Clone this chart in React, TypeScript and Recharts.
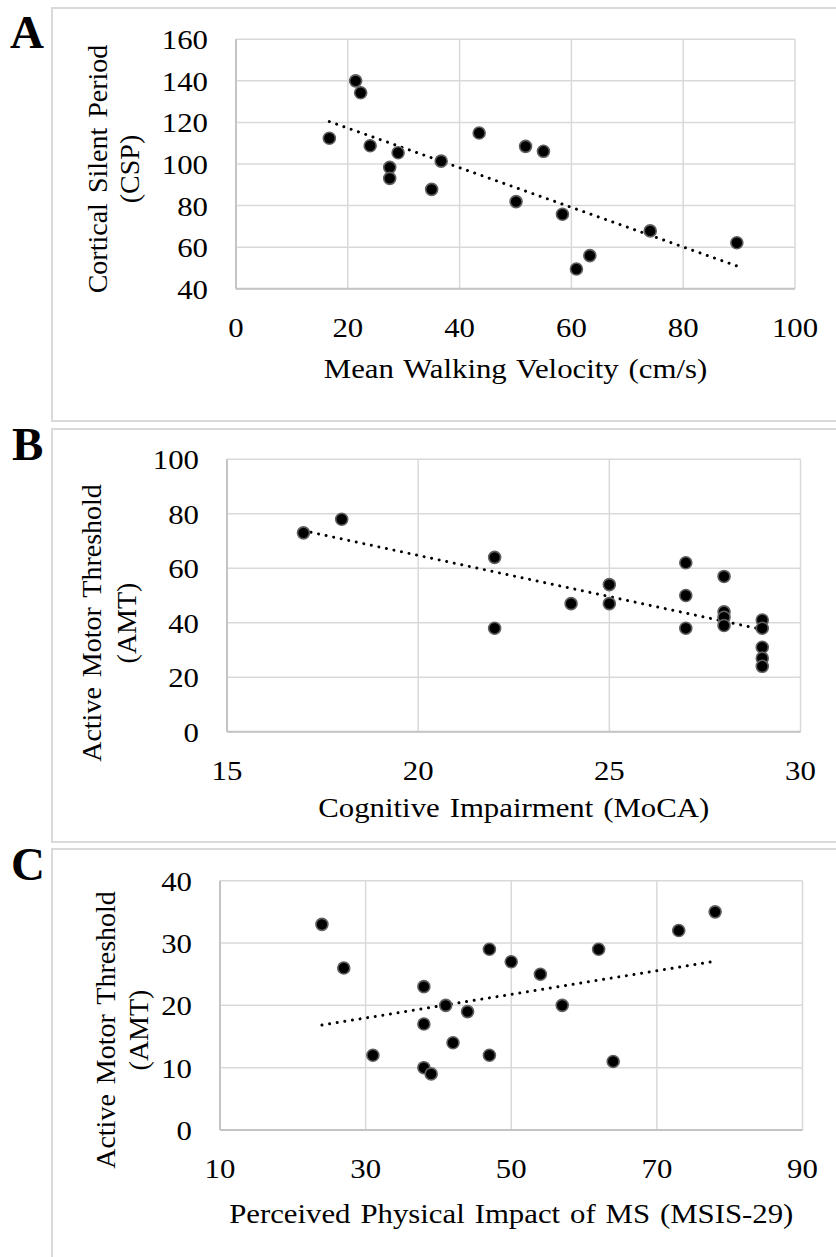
import React from 'react';
import { ScatterChart, Scatter, XAxis, YAxis, CartesianGrid, ReferenceLine } from 'recharts';

// ---- Panel A: walking velocity vs cortical silent period ----
const walkingVelocity = [16.7, 21.4, 22.3, 24.0, 29.0, 27.5, 27.5, 36.7, 35.0, 43.5, 51.8, 55.0, 50.1, 58.4, 63.3, 60.9, 74.1, 89.6];
const corticalSilentPeriod = [112.4, 140.0, 134.3, 108.8, 105.4, 98.4, 93.1, 101.4, 87.8, 114.9, 108.5, 106.1, 81.9, 75.8, 55.9, 49.5, 67.8, 62.1];
const velocityTicks = [0, 20, 40, 60, 80, 100];
const cspTicks = [40, 60, 80, 100, 120, 140, 160];

// ---- Panel B: MoCA vs active motor threshold ----
const mocaScore = [17, 18, 22, 22, 24, 25, 25, 27, 27, 27, 28, 28, 28, 28, 29, 29, 29, 29, 29];
const amtByMoca = [73, 78, 64, 38, 47, 54, 47, 62, 50, 38, 57, 44, 42, 39, 41, 38, 31, 27, 24];
const mocaTicks = [15, 20, 25, 30];
const amtTicksB = [0, 20, 40, 60, 80, 100];

// ---- Panel C: MSIS-29 physical vs active motor threshold ----
const msisPhysical = [24, 27, 31, 38, 38, 38, 39, 41, 42, 44, 47, 47, 50, 54, 57, 62, 64, 73, 78];
const amtByMsis = [33, 26, 12, 23, 17, 10, 9, 20, 14, 19, 29, 12, 27, 25, 20, 29, 11, 32, 35];
const msisTicks = [10, 30, 50, 70, 90];
const amtTicksC = [0, 10, 20, 30, 40];

const FONT = 'Liberation Serif';
const STRETCH = 1.1;
const W = 836;

// least-squares trend line across the data range
function fitLine(xs: number[], ys: number[]) {
  const n = xs.length;
  const mx = xs.reduce((a, b) => a + b, 0) / n;
  const my = ys.reduce((a, b) => a + b, 0) / n;
  let sxy = 0;
  let sxx = 0;
  for (let i = 0; i < n; i++) {
    sxy += (xs[i] - mx) * (ys[i] - my);
    sxx += (xs[i] - mx) * (xs[i] - mx);
  }
  const slope = sxy / sxx;
  const intercept = my - slope * mx;
  const x0 = Math.min(...xs);
  const x1 = Math.max(...xs);
  return [
    { x: x0, y: intercept + slope * x0 },
    { x: x1, y: intercept + slope * x1 },
  ];
}

const Marker = (props: any) => {
  const { cx, cy } = props;
  if (cx == null || cy == null) return <g />;
  return <circle cx={cx} cy={cy} r={6} fill="#000" stroke="#606060" strokeWidth={1.6} />;
};

const makeXTick = (offset: number) => (props: any) => {
  const { x, y, payload } = props;
  return (
    <text
      transform={`translate(${x},${y + offset}) scale(${STRETCH},1)`}
      textAnchor="middle"
      fontFamily={FONT}
      fontSize={28}
      fill="#000"
    >
      {payload.value}
    </text>
  );
};

const YTick = (props: any) => {
  const { x, y, payload } = props;
  return (
    <text
      transform={`translate(${x - 28},${y + 10}) scale(${STRETCH},1)`}
      textAnchor="end"
      fontFamily={FONT}
      fontSize={28}
      fill="#000"
    >
      {payload.value}
    </text>
  );
};

const XTitle = ({ cx, baseline, text }: { cx: number; baseline: number; text: string }) => (
  <text
    transform={`translate(${cx},${baseline}) scale(${STRETCH},1)`}
    textAnchor="middle"
    fontFamily={FONT}
    fontSize={28}
    wordSpacing={2}
    fill="#000"
  >
    {text}
  </text>
);

const YTitle = ({ lines, xs, cy }: { lines: string[]; xs: number[]; cy: number }) => (
  <g>
    {lines.map((t, i) => (
      <text
        key={t}
        transform={`translate(${xs[i]},${cy}) rotate(-90)`}
        textAnchor="middle"
        fontFamily={FONT}
        fontSize={28}
        wordSpacing={3}
        fill="#000"
      >
        {t}
      </text>
    ))}
  </g>
);

type PanelProps = {
  top: number;
  height: number;
  plotLeft: number;
  plotRight: number;
  plotTop: number;
  plotBottom: number;
  xs: number[];
  ys: number[];
  xDomain: [number, number];
  xTicks: number[];
  yDomain: [number, number];
  yTicks: number[];
  xTitle: string;
  xTitleBaseline: number;
  tickOffset: number;
  yTitle: string[];
  yTitleXs: number[];
  yTitleCy: number;
};

function Panel(p: PanelProps) {
  const data = p.xs.map((x, i) => ({ x, y: p.ys[i] }));
  const trend = fitLine(p.xs, p.ys);
  const cx = (p.plotLeft + p.plotRight) / 2;
  return (
    <div style={{ position: 'absolute', left: 0, top: p.top, width: W, height: p.height }}>
      <ScatterChart
        width={W}
        height={p.height}
        margin={{ top: p.plotTop, right: W - p.plotRight, left: 0, bottom: 0 }}
      >
        <CartesianGrid stroke="#d9d9d9" strokeWidth={1.5} />
        <XAxis
          type="number"
          dataKey="x"
          domain={p.xDomain}
          ticks={p.xTicks}
          interval={0}
          allowDataOverflow
          tickLine={false}
          tickSize={0}
          tickMargin={0}
          axisLine={{ stroke: '#c4c4c4', strokeWidth: 2 }}
          height={p.height - p.plotBottom}
          tick={makeXTick(p.tickOffset)}
          label={<XTitle cx={cx} baseline={p.xTitleBaseline} text={p.xTitle} />}
        />
        <YAxis
          type="number"
          dataKey="y"
          domain={p.yDomain}
          ticks={p.yTicks}
          interval={0}
          allowDataOverflow
          tickLine={false}
          tickSize={0}
          tickMargin={0}
          axisLine={{ stroke: '#c4c4c4', strokeWidth: 2 }}
          width={p.plotLeft}
          tick={YTick}
          label={<YTitle lines={p.yTitle} xs={p.yTitleXs} cy={p.yTitleCy} />}
        />
        <Scatter data={data} shape={Marker} isAnimationActive={false} />
        <ReferenceLine
          segment={trend}
          stroke="#000"
          strokeWidth={3}
          strokeDasharray="0.01 7.7"
          strokeLinecap="round"
          ifOverflow="visible"
        />
      </ScatterChart>
    </div>
  );
}

export default function App() {
  return (
    <div style={{ position: 'absolute', left: 0, top: 0, width: W, height: 1257, background: '#fff', overflow: 'hidden' }}>
      <svg width={W} height={1257} style={{ position: 'absolute', left: 0, top: 0 }}>
        <rect x={52} y={8} width={820} height={413} fill="none" stroke="#d9d9d9" strokeWidth={2} />
        <rect x={52} y={429} width={820} height={413} fill="none" stroke="#d9d9d9" strokeWidth={2} />
        <rect x={52} y={849} width={820} height={440} fill="none" stroke="#d9d9d9" strokeWidth={2} />
        <text x={10} y={48} fontFamily={FONT} fontWeight="bold" fontSize={47} fill="#000">A</text>
        <text x={12} y={460} fontFamily={FONT} fontWeight="bold" fontSize={47} fill="#000">B</text>
        <text x={11} y={880} fontFamily={FONT} fontWeight="bold" fontSize={47} fill="#000">C</text>
      </svg>

      <Panel
        top={0}
        height={420}
        plotLeft={236}
        plotRight={795}
        plotTop={39.3}
        plotBottom={288.7}
        xs={walkingVelocity}
        ys={corticalSilentPeriod}
        xDomain={[0, 100]}
        xTicks={velocityTicks}
        yDomain={[40, 160]}
        yTicks={cspTicks}
        xTitle="Mean Walking Velocity (cm/s)"
        xTitleBaseline={378}
        tickOffset={48}
        yTitle={['Cortical Silent Period', '(CSP)']}
        yTitleXs={[107, 139]}
        yTitleCy={169}
      />

      <Panel
        top={420}
        height={420}
        plotLeft={227}
        plotRight={800.5}
        plotTop={39.3}
        plotBottom={311.7}
        xs={mocaScore}
        ys={amtByMoca}
        xDomain={[15, 30]}
        xTicks={mocaTicks}
        yDomain={[0, 100]}
        yTicks={amtTicksB}
        xTitle="Cognitive Impairment (MoCA)"
        xTitleBaseline={397}
        tickOffset={48}
        yTitle={['Active Motor Threshold', '(AMT)']}
        yTitleXs={[101, 136]}
        yTitleCy={203}
      />

      <Panel
        top={840}
        height={417}
        plotLeft={220}
        plotRight={802.5}
        plotTop={40.7}
        plotBottom={290}
        xs={msisPhysical}
        ys={amtByMsis}
        xDomain={[10, 90]}
        xTicks={msisTicks}
        yDomain={[0, 40]}
        yTicks={amtTicksC}
        xTitle="Perceived Physical Impact of MS (MSIS-29)"
        xTitleBaseline={383}
        tickOffset={48}
        yTitle={['Active Motor Threshold', '(AMT)']}
        yTitleXs={[115, 148]}
        yTitleCy={190}
      />
    </div>
  );
}
